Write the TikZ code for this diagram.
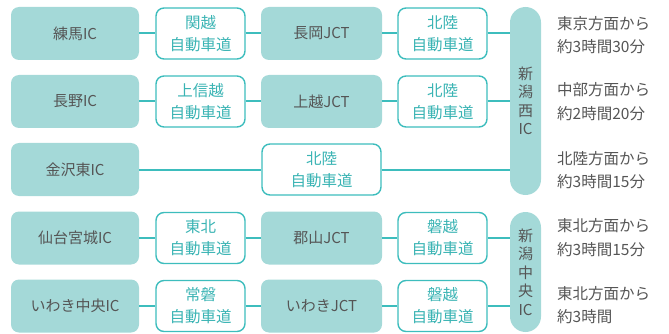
\documentclass[tikz,border=0pt]{standalone}
\usepackage{fontspec}
\setmainfont{Noto Sans CJK JP}
\definecolor{boxfill}{HTML}{A4D9D8}
\definecolor{tline}{HTML}{3DBDBD}
\definecolor{ttext}{HTML}{3AB4B4}
\definecolor{gtext}{HTML}{555555}
\begin{document}
\begin{tikzpicture}[x=1pt,y=-1pt,
 icbox/.style={fill=boxfill, rounded corners=8pt, minimum width=128pt, minimum height=53pt, inner sep=0pt, text=gtext, font=\fontsize{15}{18}\selectfont},
 jctbox/.style={icbox, minimum width=121pt},
 road/.style={draw=tline, line width=1.4pt, fill=white, rounded corners=8pt, minimum width=89pt, minimum height=51pt, inner sep=0pt, text=ttext, align=center, font=\fontsize{15.5}{22}\selectfont},
 pill/.style={fill=boxfill, rounded corners=15.5pt, minimum width=31pt, inner sep=0pt, text=gtext, align=center, font=\fontsize{15}{18.5}\selectfont},
 conn/.style={draw=tline, line width=2pt},
 note/.style={anchor=west, align=left, text=gtext, inner sep=0pt, font=\fontsize{15.5}{23.5}\selectfont}]
\useasboundingbox (0,0) rectangle (669,334);
% pills
\node[pill, minimum height=188pt] (p1) at (525.5,101) {新\\潟\\西\\IC};
\node[pill, minimum height=120pt] (p2) at (525.5,272) {新\\潟\\中\\央\\IC};
% row 1
\node[icbox] (ic1) at (75,33.5) {練馬IC};
\node[road] (r1a) at (200.5,33.5) {関越\\自動車道};
\node[jctbox] (j1) at (321.5,33.5) {長岡JCT};
\node[road] (r1b) at (442.5,33.5) {北陸\\自動車道};
% row 2
\node[icbox] (ic2) at (75,101.5) {長野IC};
\node[road] (r2a) at (200.5,101.5) {上信越\\自動車道};
\node[jctbox] (j2) at (321.5,101.5) {上越JCT};
\node[road] (r2b) at (442.5,101.5) {北陸\\自動車道};
% row 3
\node[icbox] (ic3) at (75,169.5) {金沢東IC};
\node[road, minimum width=119pt] (r3) at (321.5,169.5) {北陸\\自動車道};
% row 4
\node[icbox] (ic4) at (75,238) {仙台宮城IC};
\node[road] (r4a) at (200.5,238) {東北\\自動車道};
\node[jctbox] (j4) at (321.5,238) {郡山JCT};
\node[road] (r4b) at (442.5,238) {磐越\\自動車道};
% row 5
\node[icbox] (ic5) at (75,306) {いわき中央IC};
\node[road] (r5a) at (200.5,306) {常磐\\自動車道};
\node[jctbox] (j5) at (321.5,306) {いわきJCT};
\node[road] (r5b) at (442.5,306) {磐越\\自動車道};
% connectors
\draw[conn] (ic1) -- (r1a) (r1a) -- (j1) (j1) -- (r1b) (r1b.east) -- (r1b.east -| p1.west);
\draw[conn] (ic2) -- (r2a) (r2a) -- (j2) (j2) -- (r2b) (r2b.east) -- (r2b.east -| p1.west);
\draw[conn] (ic3) -- (r3) (r3.east) -- (r3.east -| p1.west);
\draw[conn] (ic4) -- (r4a) (r4a) -- (j4) (j4) -- (r4b) (r4b.east) -- (r4b.east -| p2.west);
\draw[conn] (ic5) -- (r5a) (r5a) -- (j5) (j5) -- (r5b) (r5b.east) -- (r5b.east -| p2.west);
% notes
\node[note] (n1) at (557,35) {東京方面から\\約3時間30分};
\node[note] (n2) at (557,101.5) {中部方面から\\約2時間20分};
\node[note] (n3) at (557,170) {北陸方面から\\約3時間15分};
\node[note] (n4) at (557,237.5) {東北方面から\\約3時間15分};
\node[note] (n5) at (557,305) {東北方面から\\約3時間};
\end{tikzpicture}
\end{document}
